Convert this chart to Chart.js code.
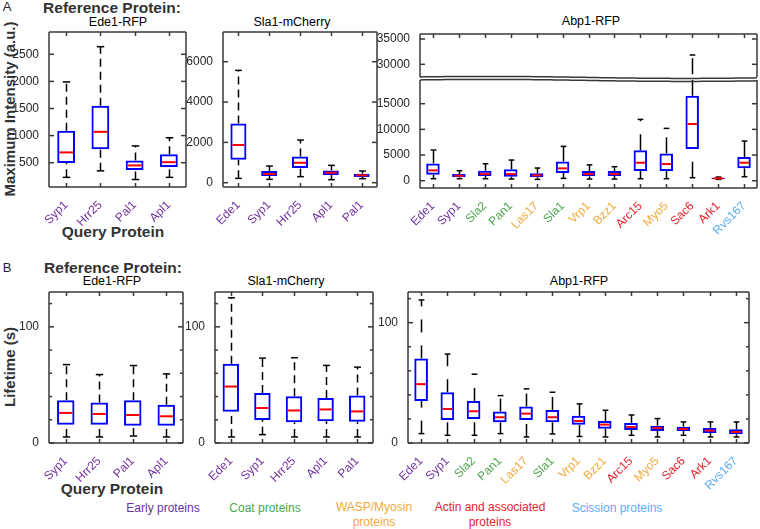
<!DOCTYPE html>
<html>
<head>
<meta charset="utf-8">
<script src="https://cdn.jsdelivr.net/npm/chart.js@4.4.0/dist/chart.umd.min.js"></script>
<style>
  body { margin: 0; width: 760px; height: 529px; position: relative; overflow: hidden; background: #fff;
         font-family: 'Liberation Sans', Arial, Helvetica, sans-serif; color: #262626; }
  canvas { position: absolute; }
  .t { position: absolute; white-space: nowrap; transform: translate(-50%, -50%); line-height: 1.25; text-align: center; }
  .b { font-weight: bold; color: #333; }
  .h { font-size: 12.5px; color: #000; }
  .g { font-size: 12px; }
</style>
</head>
<body>

<div class="t" style="left:7px;top:7px;font-size:13px;">A</div>
<div class="t" style="left:7px;top:268px;font-size:13px;">B</div>
<div class="t b" style="left:112px;top:8px;font-size:15.5px;">Reference Protein:</div>
<div class="t b" style="left:113px;top:268px;font-size:15.5px;">Reference Protein:</div>
<div class="t h" style="left:118px;top:23px;">Ede1-RFP</div>
<div class="t h" style="left:292px;top:23px;">Sla1-mCherry</div>
<div class="t h" style="left:591px;top:22px;">Abp1-RFP</div>
<div class="t h" style="left:112px;top:282px;">Ede1-RFP</div>
<div class="t h" style="left:286px;top:282px;">Sla1-mCherry</div>
<div class="t h" style="left:579px;top:282px;">Abp1-RFP</div>
<div class="t b" style="left:10px;top:109px;font-size:15px;transform:translate(-50%,-50%) rotate(-90deg);">Maximum Intensity (a.u.)</div>
<div class="t b" style="left:10px;top:367px;font-size:15px;transform:translate(-50%,-50%) rotate(-90deg);">Lifetime (s)</div>
<div class="t b" style="left:113px;top:232px;font-size:15.5px;">Query Protein</div>
<div class="t b" style="left:112px;top:489px;font-size:15.5px;">Query Protein</div>

<div class="t g" style="left:163px;top:508px;color:#7030A0">Early proteins</div>
<div class="t g" style="left:265px;top:508px;color:#4DA64D">Coat proteins</div>
<div class="t g" style="left:374px;top:515px;color:#F2A93B">WASP/Myosin<br>proteins</div>
<div class="t g" style="left:490px;top:515px;color:#E3242B">Actin and associated<br>proteins</div>
<div class="t g" style="left:617px;top:508px;color:#5AAEF5">Scission proteins</div>

<script>
// query proteins per reference protein
const ede1Query = ['Syp1', 'Hrr25', 'Pal1', 'Apl1'];
const sla1Query = ['Ede1', 'Syp1', 'Hrr25', 'Apl1', 'Pal1'];
const abp1Query = ['Ede1', 'Syp1', 'Sla2', 'Pan1', 'Las17', 'Sla1', 'Vrp1', 'Bzz1', 'Arc15', 'Myo5', 'Sac6', 'Ark1', 'Rvs167'];

// A: maximum intensity (a.u.) -- whisker low, Q1, median, Q3, whisker high
const intEde1Lo  = [230, 350, 190, 230];
const intEde1Q1  = [495, 750, 365, 420];
const intEde1Med = [690, 1070, 450, 510];
const intEde1Q3  = [1090, 1550, 540, 655];
const intEde1Hi  = [1990, 2640, 810, 960];

const intSla1Lo  = [215, 165, 300, 150, 200];
const intSla1Q1  = [1140, 330, 730, 380, 280];
const intSla1Med = [1870, 430, 990, 495, 365];
const intSla1Q3  = [2940, 580, 1305, 610, 445];
const intSla1Hi  = [5570, 825, 2115, 860, 580];

const intAbp1Lo  = [390, 390, 390, 325, 260, 455, 325, 325, 390, 390, 585, 260, 780];
const intAbp1Q1  = [1170, 650, 910, 780, 650, 1495, 845, 910, 1885, 1885, 6170, 325, 2405];
const intAbp1Med = [2015, 975, 1300, 1300, 1040, 2405, 1300, 1300, 3505, 3245, 11040, 455, 3505];
const intAbp1Q3  = [3375, 1300, 1950, 2210, 1430, 3765, 1885, 1885, 5910, 5325, 16560, 585, 4610];
const intAbp1Hi  = [5975, 1950, 3310, 4025, 2470, 6690, 3085, 2730, 11950, 10195, 31840, 715, 7730];

// B: lifetime (s)
const lifeEde1Lo  = [5.2, 5.2, 6.0, 5.2];
const lifeEde1Q1  = [15.8, 15.8, 14.9, 14.9];
const lifeEde1Med = [25.9, 25.0, 24.1, 23.0];
const lifeEde1Q3  = [36.8, 34.8, 36.8, 33.0];
const lifeEde1Hi  = [67.5, 58.9, 66.7, 59.5];

const lifeSla1Lo  = [5.2, 7.2, 5.2, 5.2, 5.2];
const lifeSla1Q1  = [26.9, 19.9, 17.9, 18.8, 18.2];
const lifeSla1Med = [48.6, 30.1, 28.0, 28.9, 27.2];
const lifeSla1Q3  = [68.2, 43.1, 40.2, 38.7, 40.8];
const lifeSla1Hi  = [125, 73.1, 73.4, 66.8, 65.3];

const lifeAbp1Lo  = [7.8, 6.4, 6.4, 7.8, 5.0, 7.5, 5.4, 5.0, 6.4, 5.0, 6.4, 5.0, 5.0];
const lifeAbp1Q1  = [35.0, 19.2, 20.0, 17.2, 19.2, 17.2, 15.1, 11.9, 10.8, 10.0, 10.0, 8.3, 7.2];
const lifeAbp1Med = [48.9, 28.3, 26.4, 21.4, 24.4, 21.4, 18.3, 15.3, 13.3, 12.5, 11.7, 10.3, 9.2];
const lifeAbp1Q3  = [70.3, 42.2, 35.0, 26.1, 30.3, 27.5, 22.6, 18.3, 16.7, 14.4, 13.6, 12.5, 11.4];
const lifeAbp1Hi  = [118.9, 73.9, 57.2, 39.4, 45.0, 42.2, 32.5, 27.2, 23.3, 20.3, 17.5, 17.5, 17.5];

// y ticks
const intEde1Ticks = [500, 1000, 1500, 2000, 2500];
const intSla1Ticks = [0, 2000, 4000, 6000];
const intAbp1LowTicks = [0, 5000, 10000, 15000];
const intAbp1HighTicks = [30000, 35000];
const lifeTickLabels = [0, 50, 100];
const lifeTicks = [0, 10, 20, 30, 40, 50, 60, 70, 80, 90, 100, 110, 120];

const groupColor = { early: '#7030A0', coat: '#4DA64D', wasp: '#F2A93B', actin: '#E3242B', scission: '#5AAEF5' };
const proteinGroup = {
    Ede1: 'early', Syp1: 'early', Hrr25: 'early', Pal1: 'early', Apl1: 'early',
    Sla2: 'coat', Pan1: 'coat', Sla1: 'coat',
    Las17: 'wasp', Vrp1: 'wasp', Bzz1: 'wasp', Myo5: 'wasp',
    Arc15: 'actin', Sac6: 'actin', Ark1: 'actin',
    Rvs167: 'scission'
};

Chart.defaults.font.family = "'Liberation Sans', Arial, Helvetica, sans-serif";
Chart.defaults.font.size = 11.5;
Chart.defaults.color = '#262626';

const YW = 45, PT = 12, PR = 6, XH = 50, PB_HIDDEN = 12;

function line(ctx, x1, y1, x2, y2) {
    ctx.beginPath();
    ctx.moveTo(x1, y1);
    ctx.lineTo(x2, y2);
    ctx.stroke();
}

// axis break line, a gentle wave
function wave(ctx, a, yBase) {
    ctx.beginPath();
    for (let i = 0; i <= 80; i++) {
        const t = i / 80;
        const px = a.left + t * a.width;
        const py = yBase - 1.0 * Math.sin(Math.PI * 2 * t * 0.85 + 0.5) + 0.4;
        if (i === 0) ctx.moveTo(px, py); else ctx.lineTo(px, py);
    }
    ctx.stroke();
}

function boxPanel(rect, labels, lo, q1, med, q3, hi, yMin, yMax, tickVals, labelVals, opts) {
    const cv = document.createElement('canvas');
    const bottomSpace = opts.hideX ? PB_HIDDEN : XH;
    cv.width = rect.right - rect.left + YW + PR;
    cv.height = rect.bottom - rect.top + PT + bottomSpace;
    cv.style.left = (rect.left - YW) + 'px';
    cv.style.top = (rect.top - PT) + 'px';
    document.body.appendChild(cv);

    // whiskers + caps under the boxes, medians on top
    const whiskers = {
        id: 'whiskers',
        beforeDatasetsDraw(chart) {
            const { ctx, chartArea: a, scales: { x, y } } = chart;
            const bars = chart.getDatasetMeta(0).data;
            ctx.save();
            ctx.beginPath();
            ctx.rect(a.left, a.top, a.width, a.height);
            ctx.clip();
            ctx.strokeStyle = '#000';
            ctx.lineWidth = 1.5;
            labels.forEach((_, i) => {
                const cx = Math.round(x.getPixelForValue(i)) + 0.5;
                const cap = bars[i].width * 0.21;
                const yLo = y.getPixelForValue(lo[i]);
                const yHi = y.getPixelForValue(hi[i]);
                ctx.setLineDash(opts.dash);
                line(ctx, cx, yLo, cx, y.getPixelForValue(q1[i]));
                line(ctx, cx, y.getPixelForValue(q3[i]), cx, yHi);
                ctx.setLineDash([]);
                line(ctx, cx - cap, yLo, cx + cap, yLo);
                line(ctx, cx - cap, yHi, cx + cap, yHi);
            });
            ctx.restore();
        },
        afterDatasetsDraw(chart) {
            const { ctx, chartArea: a, scales: { y } } = chart;
            const bars = chart.getDatasetMeta(0).data;
            ctx.save();
            ctx.beginPath();
            ctx.rect(a.left, a.top, a.width, a.height);
            ctx.clip();
            ctx.strokeStyle = '#FF0000';
            ctx.lineWidth = 2;
            labels.forEach((_, i) => {
                const b = bars[i];
                const ym = y.getPixelForValue(med[i]);
                line(ctx, b.x - b.width / 2 + 2, ym, b.x + b.width / 2 - 2, ym);
            });
            ctx.restore();
        }
    };

    // MATLAB style box with inward ticks on every side
    const frame = {
        id: 'frame',
        afterDraw(chart) {
            const { ctx, chartArea: a, scales: { x, y } } = chart;
            ctx.save();
            ctx.strokeStyle = '#383838';
            ctx.lineWidth = 1.5;
            y.ticks.forEach(t => {
                const py = y.getPixelForValue(t.value);
                const len = t.label === '' ? 3 : 5;
                line(ctx, a.left, py, a.left + len, py);
                line(ctx, a.right, py, a.right - len, py);
            });
            x.ticks.forEach((t, i) => {
                const px = Math.round(x.getPixelForTick(i)) + 0.5;
                if (!opts.waveTop) line(ctx, px, a.top, px, a.top + 4);
                if (!opts.waveBottom) line(ctx, px, a.bottom, px, a.bottom - 4);
            });
            line(ctx, a.left, a.top, a.left, a.bottom);
            line(ctx, a.right, a.top, a.right, a.bottom);
            if (opts.waveTop) wave(ctx, a, a.top); else line(ctx, a.left, a.top, a.right, a.top);
            if (opts.waveBottom) wave(ctx, a, a.bottom); else line(ctx, a.left, a.bottom, a.right, a.bottom);
            ctx.restore();
        }
    };

    return new Chart(cv, {
        type: 'bar',
        data: {
            labels: labels,
            datasets: [{
                data: labels.map((_, i) => [q1[i], q3[i]]),
                borderColor: '#0000FF',
                backgroundColor: 'rgba(255,255,255,0)',
                borderWidth: 2,
                borderSkipped: false,
                barPercentage: 0.52,
                categoryPercentage: 1
            }]
        },
        options: {
            responsive: false,
            devicePixelRatio: 1,
            animation: false,
            events: [],
            layout: { padding: { top: PT, right: PR, left: 0, bottom: opts.hideX ? PB_HIDDEN : 0 } },
            plugins: { legend: { display: false }, tooltip: { enabled: false }, title: { display: false } },
            scales: {
                x: {
                    offset: true,
                    grid: { display: false },
                    border: { display: false },
                    ticks: {
                        display: !opts.hideX,
                        autoSkip: false,
                        minRotation: 45,
                        maxRotation: 45,
                        padding: 3,
                        font: { size: 12 },
                        color: c => groupColor[proteinGroup[labels[c.index]]]
                    },
                    afterFit: s => { s.height = opts.hideX ? 0 : XH; }
                },
                y: {
                    min: yMin,
                    max: yMax,
                    grid: { display: false },
                    border: { display: false },
                    afterBuildTicks: s => { s.ticks = tickVals.map(v => ({ value: v })); },
                    ticks: {
                        padding: 2,
                        font: { size: 12 },
                        color: '#262626',
                        callback: v => labelVals.includes(v) ? String(v) : ''
                    },
                    afterFit: s => { s.width = YW; }
                }
            }
        },
        plugins: [whiskers, frame]
    });
}

const dashSmall = [8, 5];
const dashLong = [13, 13];

// A
boxPanel({ left: 49, right: 186, top: 32, bottom: 187 }, ede1Query,
    intEde1Lo, intEde1Q1, intEde1Med, intEde1Q3, intEde1Hi, 52, 2911, intEde1Ticks, intEde1Ticks, { dash: dashSmall });
boxPanel({ left: 223, right: 377, top: 32, bottom: 187 }, sla1Query,
    intSla1Lo, intSla1Q1, intSla1Med, intSla1Q3, intSla1Hi, -213, 7473, intSla1Ticks, intSla1Ticks, { dash: dashSmall });
boxPanel({ left: 420, right: 757, top: 34, bottom: 77 }, abp1Query,
    intAbp1Lo, intAbp1Q1, intAbp1Med, intAbp1Q3, intAbp1Hi, 27490, 35990, intAbp1HighTicks, intAbp1HighTicks,
    { dash: [16, 13], hideX: true, waveBottom: true });
boxPanel({ left: 420, right: 757, top: 80, bottom: 188 }, abp1Query,
    intAbp1Lo, intAbp1Q1, intAbp1Med, intAbp1Q3, intAbp1Hi, -1420, 19620, intAbp1LowTicks, intAbp1LowTicks,
    { dash: [16, 13], waveTop: true });

// B
boxPanel({ left: 49, right: 183, top: 292, bottom: 443 }, ede1Query,
    lifeEde1Lo, lifeEde1Q1, lifeEde1Med, lifeEde1Q3, lifeEde1Hi, 0, 130, lifeTicks, lifeTickLabels, { dash: dashSmall });
boxPanel({ left: 215, right: 373, top: 292, bottom: 443 }, sla1Query,
    lifeSla1Lo, lifeSla1Q1, lifeSla1Med, lifeSla1Q3, lifeSla1Hi, 0, 130, lifeTicks, lifeTickLabels, { dash: dashSmall });
boxPanel({ left: 408, right: 749, top: 292, bottom: 443 }, abp1Query,
    lifeAbp1Lo, lifeAbp1Q1, lifeAbp1Med, lifeAbp1Q3, lifeAbp1Hi, 0, 125.5, lifeTicks, lifeTickLabels, { dash: dashLong });
</script>
</body>
</html>
